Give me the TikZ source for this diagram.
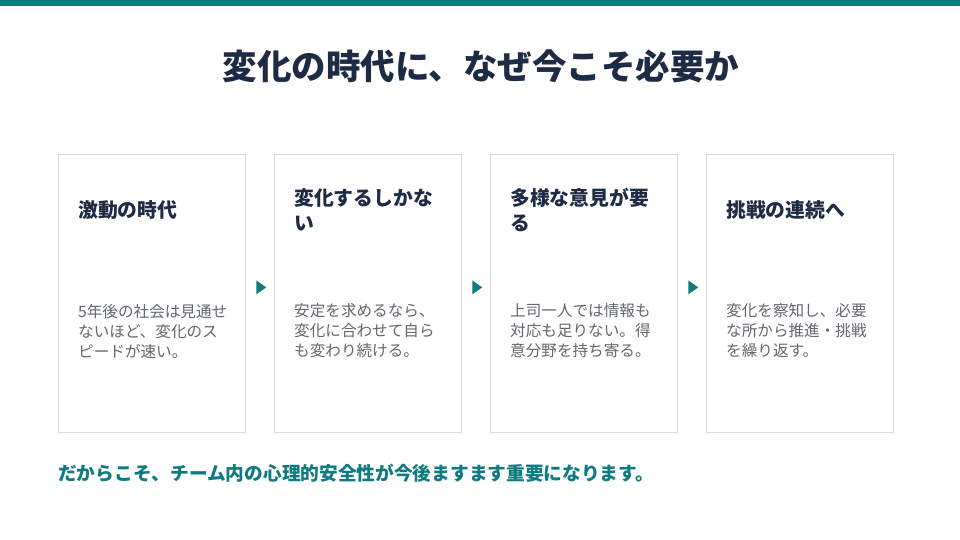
\documentclass[tikz,border=0pt]{standalone}
\usepackage{fontspec}
\setmainfont{Noto Sans CJK JP}
\usetikzlibrary{positioning,shapes.geometric,calc}
\definecolor{teal}{HTML}{0F7B80}
\definecolor{navy}{HTML}{1E2B45}
\definecolor{bodygray}{HTML}{62676E}
\definecolor{cardline}{HTML}{D8DCE1}
\tikzset{
  card/.style={draw=cardline,line width=0.8pt,fill=white,minimum width=187pt,minimum height=278pt,anchor=north west,inner sep=0pt},
  cardhead/.style={anchor=west,align=left,inner sep=0pt,text=navy,font=\fontsize{19.8}{25}\selectfont\bfseries},
  cardbody/.style={anchor=west,align=left,inner sep=0pt,text=bodygray,font=\fontsize{15.6}{20}\selectfont},
  marker/.style={isosceles triangle,isosceles triangle apex angle=70,fill=teal,inner sep=0pt,minimum height=10pt,minimum width=12pt}
}
\begin{document}
\begin{tikzpicture}[x=1pt,y=1pt]
\useasboundingbox (0,0) rectangle (960,540);
% Top bar
\fill[teal] (0,534) rectangle (960,540);

% Title
\node[text=navy,font=\fontsize{34.5}{40}\selectfont\bfseries] (title) at (481,474) {変化の時代に、なぜ今こそ必要か};

% Cards
\node[card] (c1) at (58,386) {};
\node[card] (c2) at (274,386) {};
\node[card] (c3) at (490,386) {};
\node[card] (c4) at (706,386) {};

% Card headings
\node[cardhead] (h1) at (78,330) {激動の時代};
\node[cardhead] (h2) at (294,330) {変化するしかな\\い};
\node[cardhead] (h3) at (510,330) {多様な意見が要\\る};
\node[cardhead] (h4) at (726,330) {挑戦の連続へ};

% Card texts
\node[cardbody] (b1) at (78,209) {5年後の社会は見通せ\\ないほど、変化のス\\ピードが速い。};
\node[cardbody] (b2) at (294,209) {安定を求めるなら、\\変化に合わせて自ら\\も変わり続ける。};
\node[cardbody] (b3) at (510,209) {上司一人では情報も\\対応も足りない。得\\意分野を持ち寄る。};
\node[cardbody] (b4) at (726,209) {変化を察知し、必要\\な所から推進・挑戦\\を繰り返す。};

% Markers between cards
\foreach \a/\b [count=\i] in {c1/c2,c2/c3,c3/c4}
  \node[marker] (m\i) at ($(\a.east)!0.5!(\b.west)+(0,6)$) {};

% Closing line
\node[anchor=west,inner sep=0pt,text=teal,font=\fontsize{18.7}{22}\selectfont\bfseries] (closing) at (58,67) {だからこそ、チーム内の心理的安全性が今後ますます重要になります。};
\end{tikzpicture}
\end{document}
